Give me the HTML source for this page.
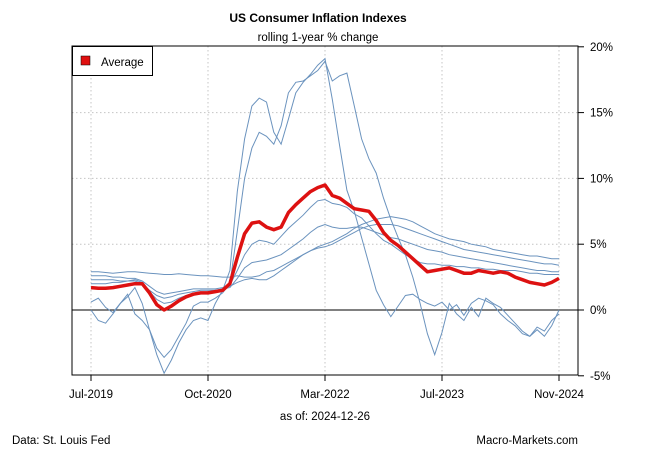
<!DOCTYPE html>
<html><head><meta charset="utf-8"><style>
body{margin:0;background:#fff}
svg{display:block;font-family:"Liberation Sans",sans-serif}
</style></head><body>
<svg id="chart" width="650" height="450" viewBox="0 0 650 450">
<rect x="0" y="0" width="650" height="450" fill="#fff"/>
<text x="318" y="22" text-anchor="middle" font-size="12" font-weight="bold">US Consumer Inflation Indexes</text>
<text x="318" y="41" text-anchor="middle" font-size="11.5">rolling 1-year % change</text>
<g id="grid"></g>
<g id="series" clip-path="url(#clip)"></g>
<clipPath id="clip"><rect x="72" y="46" width="506" height="329"/></clipPath>
<rect x="72" y="46" width="506" height="329" fill="none" stroke="#000" stroke-width="1"/>
<g id="axes"></g>
<g>
<rect x="72.5" y="46.5" width="80" height="29" fill="#fff" stroke="#000"/>
<rect x="81" y="56" width="9" height="9" fill="#e01010" stroke="#000" stroke-width="0.5"/>
<text x="101" y="66" font-size="11.5">Average</text>
</g>
<text x="325" y="420" text-anchor="middle" font-size="11.5">as of:  2024-12-26</text>
<text x="12" y="444" font-size="11.5">Data: St. Louis Fed</text>
<text x="578" y="444" text-anchor="end" font-size="11.5">Macro-Markets.com</text>
</svg>
<script>
const xTickIdx=[0,16,32,48,64];
const xTickLabels=["Jul-2019","Oct-2020","Mar-2022","Jul-2023","Nov-2024"];
const yTicks=[-5,0,5,10,15,20];
const yTickLabels=["-5%","0%","5%","10%","15%","20%"];
const avgSeries=[1.7,1.65,1.65,1.7,1.8,1.9,2.0,2.0,1.3,0.4,
0.0,0.3,0.7,1.0,1.2,1.3,1.3,1.4,1.5,2.0,
4.0,5.8,6.6,6.7,6.3,6.1,6.3,7.4,8.0,8.5,
9.0,9.3,9.5,8.7,8.5,8.1,7.7,7.6,7.5,6.8,
5.9,5.3,4.9,4.4,3.9,3.4,2.9,3.0,3.1,3.2,
3.0,2.8,2.8,3.0,2.9,2.8,2.9,2.8,2.5,2.3,
2.1,2.0,1.9,2.1,2.4];
const seriesC3=[2.9,2.9,2.85,2.8,2.85,2.9,2.9,2.85,2.8,2.75,
2.7,2.7,2.75,2.7,2.65,2.6,2.6,2.55,2.5,2.5,
2.6,2.5,2.5,2.6,2.9,3.0,3.3,3.6,3.9,4.2,
4.5,4.8,5.0,5.2,5.5,5.8,6.2,6.5,6.7,6.9,
7.0,7.1,7.0,6.9,6.7,6.4,6.1,5.8,5.6,5.4,
5.3,5.2,5.0,4.9,4.8,4.6,4.5,4.4,4.3,4.2,
4.1,4.1,4.0,3.9,3.9];
const seriesC4=[2.6,2.6,2.6,2.5,2.5,2.4,2.4,2.2,1.8,1.4,
1.2,1.3,1.4,1.5,1.6,1.6,1.6,1.6,1.7,1.8,
2.1,2.3,2.4,2.3,2.3,2.6,3.0,3.4,3.8,4.2,
4.5,4.7,4.8,5.0,5.3,5.6,5.9,6.2,6.4,6.5,
6.5,6.5,6.4,6.2,6.0,5.8,5.6,5.4,5.2,5.0,
4.8,4.6,4.5,4.4,4.3,4.2,4.1,4.0,3.9,3.8,
3.7,3.6,3.5,3.5,3.4];
const seriesC2=[2.3,2.3,2.3,2.3,2.2,2.2,2.2,2.0,1.5,1.1,
0.9,1.0,1.2,1.3,1.4,1.5,1.5,1.5,1.6,1.7,
2.4,3.2,3.6,3.7,3.8,4.0,4.2,4.6,5.0,5.4,
5.9,6.3,6.5,6.3,6.2,6.2,6.3,6.3,6.1,5.9,
5.7,5.5,5.4,5.2,5.0,4.8,4.6,4.5,4.4,4.2,
4.1,4.0,3.9,3.8,3.7,3.6,3.5,3.4,3.3,3.2,
3.1,3.0,3.0,2.9,2.9];
const seriesC1=[2.0,2.0,2.0,2.1,2.1,2.2,2.3,2.1,1.4,0.8,
0.5,0.6,0.9,1.1,1.2,1.3,1.3,1.4,1.5,1.9,
3.0,4.2,5.0,5.3,5.2,5.0,5.6,6.2,6.7,7.2,
7.8,8.3,8.4,8.1,8.0,7.8,7.3,7.0,6.4,5.8,
5.3,5.0,4.6,4.2,3.9,3.6,3.5,3.5,3.4,3.4,
3.3,3.3,3.2,3.2,3.1,3.1,3.0,3.0,3.0,2.9,
2.8,2.8,2.7,2.7,2.7];
const seriesB1=[0.0,-0.8,-1.0,-0.3,0.5,1.2,-0.3,-0.8,-1.5,-3.4,
-4.8,-3.8,-2.5,-1.5,-0.8,-0.6,-0.8,0.5,1.5,3.0,
9.0,13.0,15.5,16.1,15.8,13.5,12.6,14.5,16.5,17.3,
17.9,18.6,19.1,16.0,12.5,9.1,7.5,5.5,3.5,1.5,
0.4,-0.5,0.3,1.1,1.2,0.8,0.5,0.3,0.6,0.0,
0.4,-0.4,0.5,0.9,0.7,0.4,-0.3,-0.8,-1.2,-1.8,
-2.0,-1.3,-1.6,-0.8,-0.3];
const seriesB2=[0.6,0.9,0.2,-0.2,0.5,1.0,1.7,0.5,-1.5,-2.9,
-3.6,-3.0,-2.0,-1.0,0.3,0.6,0.6,0.9,1.3,2.0,
6.0,10.0,12.3,13.5,13.2,12.6,14.0,16.5,17.3,17.4,
17.8,18.2,18.9,17.4,17.8,18.0,15.5,13.0,11.5,10.4,
8.5,6.9,5.5,4.2,2.5,0.5,-1.8,-3.4,-1.7,0.5,
-0.3,-0.8,0.2,-0.5,0.9,0.5,0.2,-0.4,-1.0,-1.6,
-2.0,-1.5,-2.0,-1.2,0.0];

const NS="http://www.w3.org/2000/svg";
const X0=91,X1=559,N=64,Y0=310,PX=13.16;
function xs(i){return X0+(X1-X0)*i/N;}
function ys(v){return Y0-v*PX;}
function mk(t,a,p){const e=document.createElementNS(NS,t);for(const k in a)e.setAttribute(k,a[k]);p.appendChild(e);return e;}
const grid=document.getElementById('grid'),axes=document.getElementById('axes'),ser=document.getElementById('series');
xTickIdx.forEach((ix,k)=>{
 const x=xs(ix);
 const g=mk('line',{x1:x,x2:x,y1:46,y2:375,stroke:'#c4c4c4','stroke-dasharray':'1.5,2.5'},grid);
 
 
 const t=mk('line',{x1:x,x2:x,y1:375,y2:381,stroke:'#000'},axes);
 
 
 const l=mk('text',{x:x,y:398,'text-anchor':'middle','font-size':11.5},axes);
 l.textContent=xTickLabels[k];
 
 
});
yTicks.forEach((v,k)=>{
 const y=ys(v);
 if(v!==0&&v!==-5&&v!==20){
  const g=mk('line',{x1:72,x2:578,y1:y,y2:y,stroke:'#c4c4c4','stroke-dasharray':'1.5,2.5'},grid);
  
  
 }
 const t=mk('line',{x1:578,x2:584,y1:y,y2:y,stroke:'#000'},axes);
 
 
 const l=mk('text',{x:590,y:y+4,'font-size':11.5},axes);
 l.textContent=yTickLabels[k];
 
 
});
const zl=mk('line',{x1:72,x2:578,y1:ys(0),y2:ys(0),stroke:'#000'},grid);


function path(arr){return arr.map((v,i)=>(i?'L':'M')+xs(i).toFixed(1)+','+ys(v).toFixed(1)).join(' ');}
[[seriesC3,'series-c3'],[seriesC4,'series-c4'],[seriesC2,'series-c2'],[seriesC1,'series-c1'],[seriesB1,'series-b1'],[seriesB2,'series-b2']].forEach(([a,n])=>{
 const p=mk('path',{d:path(a),fill:'none',stroke:'#6b93be','stroke-width':1},ser);
 
 
});
const avg=mk('path',{d:path(avgSeries),fill:'none',stroke:'#dd1111','stroke-width':3.5,'stroke-linejoin':'round'},ser);


</script>
</body></html>
